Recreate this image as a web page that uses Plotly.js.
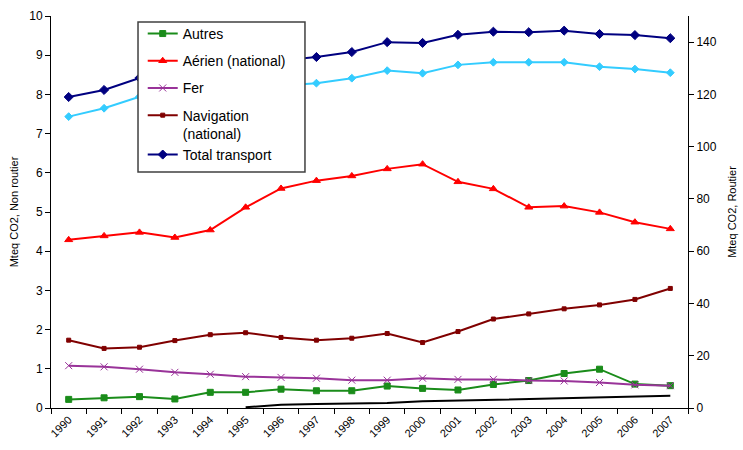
<!DOCTYPE html>
<html>
<head>
<meta charset="utf-8">
<script src="https://cdn.plot.ly/plotly-3.0.1.min.js"></script>
<style>html,body{margin:0;padding:0;background:#fff;}#chart{width:743px;height:450px;}</style>
</head>
<body>
<div id="chart"></div>
<script>
var years = ["1990","1991","1992","1993","1994","1995","1996","1997","1998","1999","2000","2001","2002","2003","2004","2005","2006","2007"];
var autres = [0.22,0.26,0.29,0.23,0.40,0.40,0.48,0.44,0.44,0.56,0.50,0.46,0.60,0.70,0.88,0.99,0.61,0.57];
var aerien = [4.29,4.39,4.48,4.35,4.54,5.12,5.60,5.80,5.92,6.10,6.22,5.77,5.59,5.12,5.15,4.99,4.74,4.57];
var fer = [1.08,1.05,0.99,0.91,0.86,0.80,0.78,0.76,0.71,0.71,0.76,0.73,0.73,0.70,0.69,0.65,0.59,0.57];
var navigation = [1.73,1.52,1.55,1.72,1.87,1.92,1.80,1.73,1.78,1.90,1.67,1.95,2.27,2.40,2.53,2.63,2.77,3.05];
var biocarb = [null,null,null,null,null,0.02,0.08,0.10,0.11,0.13,0.17,0.19,0.22,0.24,0.26,0.28,0.30,0.31];
var totalTransport = [119.0,121.7,126.3,127.5,129.5,131.5,133.0,134.3,136.2,140.0,139.7,142.8,144.0,143.8,144.4,143.1,142.7,141.5];
var routier = [111.5,114.7,119.1,120.0,121.5,122.5,123.5,124.3,126.2,129.1,128.1,131.3,132.3,132.3,132.3,130.6,129.7,128.3];

var fontFam = "Liberation Sans, Arial, sans-serif";
function tr(name, y, color, sym, size, axis, grp, show) {
  return {x: years, y: y, name: name, type: "scatter", mode: "lines+markers",
    yaxis: axis, legendgroup: grp, showlegend: show,
    line: {color: color, width: 2},
    marker: {color: color, symbol: sym, size: size, line: {color: color, width: 1}}};
}
var data = [
  tr("Autres", autres, "#1a8c1a", "square", 6, "y", "g1", true),
  tr("Aérien (national)", aerien, "#ff0000", "triangle-up", 7, "y", "g2", true),
  tr("Fer", fer, "#993399", "x-thin-open", 7, "y", "g3", true),
  tr("Navigation<br>(national)", navigation, "#800000", "square", 4, "y", "g4", true),
  tr("Total transport", totalTransport, "#000080", "diamond", 7, "y2", "g4", true),
  tr("Routier", routier, "#33ccff", "diamond", 6, "y2", "g6", false),
  {x: years, y: biocarb, name: "Biocarburants", type: "scatter", mode: "lines", yaxis: "y",
   showlegend: false, line: {color: "#000000", width: 2}}
];
var layout = {
  width: 743, height: 450,
  margin: {l: 51, r: 55, t: 16, b: 42},
  paper_bgcolor: "#ffffff", plot_bgcolor: "#ffffff",
  font: {family: fontFam, color: "#000", size: 12},
  showlegend: true,
  legend: {x: 0.144, y: 0.995, xanchor: "left", yanchor: "top", bgcolor: "rgba(0,0,0,0)",
    borderwidth: 0, font: {size: 14, family: fontFam}, traceorder: "grouped", tracegroupgap: 6,
    valign: "top"},
  xaxis: {type: "category", tickson: "boundaries", ticks: "outside", ticklen: 5, tickcolor: "#000",
    showline: true, linecolor: "#000", linewidth: 1, showgrid: false, tickangle: -45,
    tickfont: {size: 11}, range: [-0.5, 17.5], fixedrange: true},
  yaxis: {range: [0, 10], dtick: 1, ticks: "outside", ticklen: 5, tickcolor: "#000", showline: true,
    linecolor: "#000", linewidth: 1, showgrid: false, zeroline: false, tickfont: {size: 12},
    title: {text: "Mteq CO2, Non routier", font: {size: 11}, standoff: 8}},
  yaxis2: {range: [0, 150], tickvals: [0,20,40,60,80,100,120,140], ticks: "outside", ticklen: 5,
    tickcolor: "#000", showline: true, linecolor: "#000", linewidth: 1, showgrid: false, zeroline: false,
    overlaying: "y", side: "right", tickfont: {size: 12},
    title: {text: "Mteq CO2, Routier", font: {size: 11}, standoff: 12}},
  shapes: [{type: "rect", xref: "paper", yref: "paper", x0: 0.1366, x1: 0.3987, y0: 0.602, y1: 0.985,
    fillcolor: "#ffffff", line: {color: "#404040", width: 1.5}, layer: "above"}]
};
Plotly.newPlot("chart", data, layout, {displayModeBar: false, staticPlot: true});
</script>
</body>
</html>
